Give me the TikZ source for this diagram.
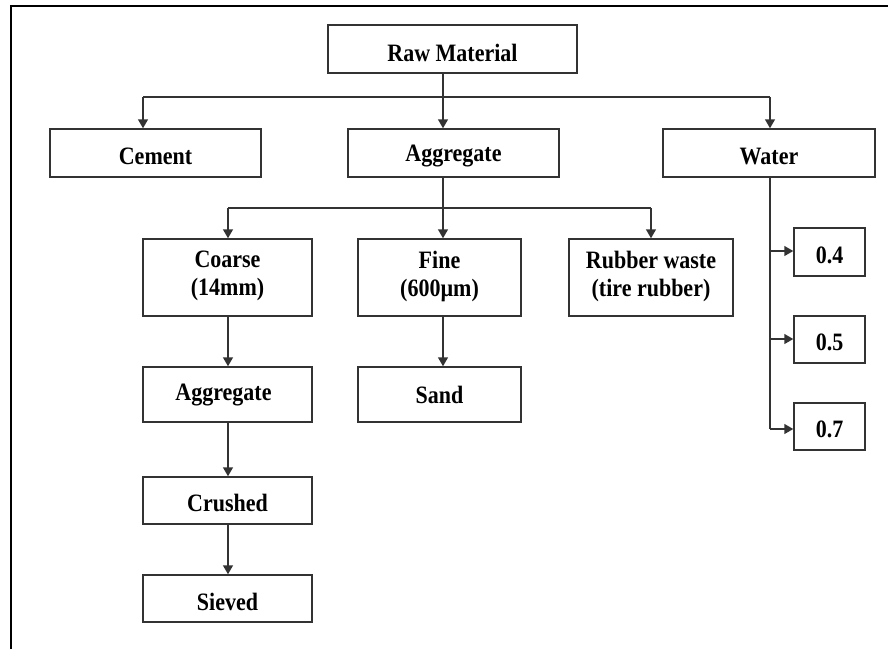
\documentclass[tikz,border=0pt]{standalone}
\usepackage{fontspec}
\setmainfont{Liberation Serif}[FakeStretch=0.88]
\usetikzlibrary{arrows.meta}
\tikzset{
  box/.style={draw=black!80, line width=1.5pt, inner sep=0pt, fill=white},
  txt/.style={font=\bfseries\fontsize{25}{28}\selectfont, text=black, inner sep=0pt, align=center},
  conn/.style={draw=black!80, line width=1.5pt},
  arr/.style={conn, -{Triangle[length=9pt,width=10pt]}},
}
\begin{document}
\begin{tikzpicture}[x=1pt,y=-1pt]
\useasboundingbox (0,0) rectangle (888,649);
% frame (left and top edges visible)
\draw[line width=2.2pt, black] (11,649) -- (11,6) -- (888,6);

% boxes
\node[box, minimum width=249pt, minimum height=48pt, label={[txt,anchor=base,yshift=-4.3pt]center:Raw Material}] (raw) at (452.5,49) {};
\node[box, minimum width=211pt, minimum height=48pt, label={[txt,anchor=base,yshift=-3.7pt]center:Cement}] (cement) at (155.5,153) {};
\node[box, minimum width=211pt, minimum height=48pt, label={[txt,anchor=base,yshift=-3pt]center:Aggregate}] (agg) at (453.5,153) {};
\node[box, minimum width=212pt, minimum height=48pt, label={[txt,anchor=base,yshift=-3.7pt]center:Water}] (water) at (769,153) {};

\node[box, minimum width=169pt, minimum height=77pt, label={[txt,anchor=center,yshift=1.5pt]center:Coarse\\(14mm)}] (coarse) at (227.5,277.5) {};
\node[box, minimum width=163pt, minimum height=77pt, label={[txt,anchor=center,yshift=1.5pt]center:Fine\\(600µm)}] (fine) at (439.5,277.5) {};
\node[box, minimum width=164pt, minimum height=77pt, label={[txt,anchor=center,yshift=1.5pt]center:Rubber waste\\(tire rubber)}] (rubber) at (651,277.5) {};

\node[box, minimum width=169pt, minimum height=55pt, label={[txt,anchor=base,xshift=-4pt,yshift=0pt]center:Aggregate}] (agg2) at (227.5,394.5) {};
\node[box, minimum width=163pt, minimum height=55pt, label={[txt,anchor=base,yshift=0pt]center:Sand}] (sand) at (439.5,394.5) {};
\node[box, minimum width=169pt, minimum height=47pt, label={[txt,anchor=base,yshift=-2.7pt]center:Crushed}] (crushed) at (227.5,500.5) {};
\node[box, minimum width=169pt, minimum height=47pt, label={[txt,anchor=base,yshift=-3.3pt]center:Sieved}] (sieved) at (227.5,598.5) {};

\node[box, minimum width=71pt, minimum height=48pt, label={[txt,anchor=base,yshift=-3pt]center:0.4}] (v04) at (829.5,252) {};
\node[box, minimum width=71pt, minimum height=47pt, label={[txt,anchor=base,yshift=-2.7pt]center:0.5}] (v05) at (829.5,339.5) {};
\node[box, minimum width=71pt, minimum height=47pt, label={[txt,anchor=base,yshift=-2.5pt]center:0.7}] (v07) at (829.5,426.5) {};

% junction coordinates
\coordinate (t1) at (443,97);
\coordinate (t1l) at (143,97);
\coordinate (t1r) at (770,97);
\coordinate (t2) at (443,208);
\coordinate (t2l) at (228,208);
\coordinate (t2r) at (651,208);
\coordinate (w4) at (770,251);
\coordinate (w5) at (770,339);
\coordinate (w7) at (770,429);

% level 1
\draw[conn] (raw.south -| t1) -- (t1);
\draw[conn] (t1l) -- (t1r);
\draw[arr] (t1l) -- (t1l |- cement.north);
\draw[arr] (t1) -- (t1 |- agg.north);
\draw[arr] (t1r) -- (t1r |- water.north);

% level 2
\draw[conn] (agg.south -| t2) -- (t2);
\draw[conn] (t2l) -- (t2r);
\draw[arr] (t2l) -- (t2l |- coarse.north);
\draw[arr] (t2) -- (t2 |- fine.north);
\draw[arr] (t2r) -- (t2r |- rubber.north);

% chains
\draw[arr] (coarse.south -| t2l) -- (agg2.north -| t2l);
\draw[arr] (agg2.south -| t2l) -- (crushed.north -| t2l);
\draw[arr] (crushed.south -| t2l) -- (sieved.north -| t2l);
\draw[arr] (fine.south -| t2) -- (sand.north -| t2);

% water branch
\draw[conn] (water.south -| w7) -- (w7);
\draw[arr] (w4) -- (w4 -| v04.west);
\draw[arr] (w5) -- (w5 -| v05.west);
\draw[arr] (w7) -- (w7 -| v07.west);
\end{tikzpicture}
\end{document}
